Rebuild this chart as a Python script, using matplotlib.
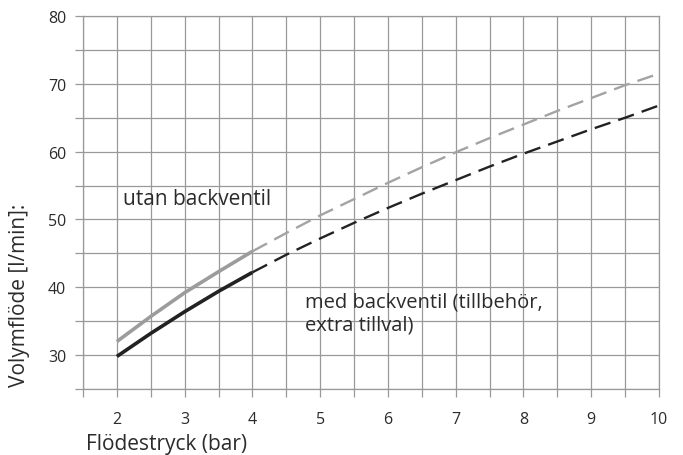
import numpy as np
import matplotlib.pyplot as plt
from matplotlib.ticker import MultipleLocator

plt.rcParams['font.family'] = ['Open Sans', 'DejaVu Sans']

# Flow pressure (bar) and volume flow (l/min)
pressure = [2, 2.5, 3, 3.5, 4, 4.5, 5, 5.5, 6, 6.5, 7, 7.5, 8, 8.5, 9, 9.5, 10]
flow_without = [32.0, 35.7, 39.2, 42.3, 45.3, 48.0, 50.6, 53.0, 55.4, 57.7,
                59.9, 62.0, 64.0, 66.0, 67.9, 69.8, 71.5]
flow_with = [29.8, 33.2, 36.4, 39.4, 42.2, 44.8, 47.2, 49.5, 51.7, 53.8,
             55.8, 57.8, 59.7, 61.5, 63.3, 65.0, 66.8]
measured_upto = 4  # solid up to here, dashed beyond

grid_col = '#999999'
text_col = '#2b2b2b'

fig = plt.figure(figsize=(6.83, 4.56), dpi=100)
ax = fig.add_axes([83/683, 1-390/456, (659-83)/683, (390-17)/456])

x = np.array(pressure)
solid = x <= measured_upto
dashed = x >= measured_upto

ax.plot(x[dashed], np.array(flow_without)[dashed], color='#a3a3a3', lw=1.7, dashes=(7, 3.5))
ax.plot(x[dashed], np.array(flow_with)[dashed], color='#222222', lw=1.7, dashes=(7, 3.5))
ax.plot(x[solid], np.array(flow_without)[solid], color='#9c9c9c', lw=2.6, solid_capstyle='butt')
ax.plot(x[solid], np.array(flow_with)[solid], color='#222222', lw=2.6, solid_capstyle='butt')

ax.set_xlim(1.5, 10)
ax.set_ylim(25, 80)
ax.xaxis.set_minor_locator(MultipleLocator(0.5))
ax.yaxis.set_minor_locator(MultipleLocator(5))
ax.set_xticks(range(2, 11))
ax.set_yticks(range(30, 81, 10))

ax.grid(True, which='both', color=grid_col, lw=0.9)
ax.set_axisbelow(True)
ax.tick_params(which='both', length=6, width=0.9, color=grid_col,
               labelsize=11.5, labelcolor=text_col)
ax.tick_params(axis='x', which='major', pad=10)
ax.tick_params(axis='y', which='major', pad=6)
for s in ax.spines.values():
    s.set_color(grid_col)
    s.set_linewidth(0.9)

ax.text(2.09, 53.1, 'utan backventil', fontsize=15, color=text_col, va='center')
ax.text(4.77, 36.2, 'med backventil (tillbehör,\nextra tillval)', fontsize=14.5,
        color=text_col, va='center', linespacing=1.2)

fig.text(20/683, 1-387/456, 'Volymflöde [l/min]:', rotation=90, fontsize=15,
         color=text_col, ha='center', va='bottom')
fig.text(86/683, 1-445/456, 'Flödestryck (bar)', fontsize=15, color=text_col,
         ha='left', va='center')

fig.savefig('out.png', dpi=100)
